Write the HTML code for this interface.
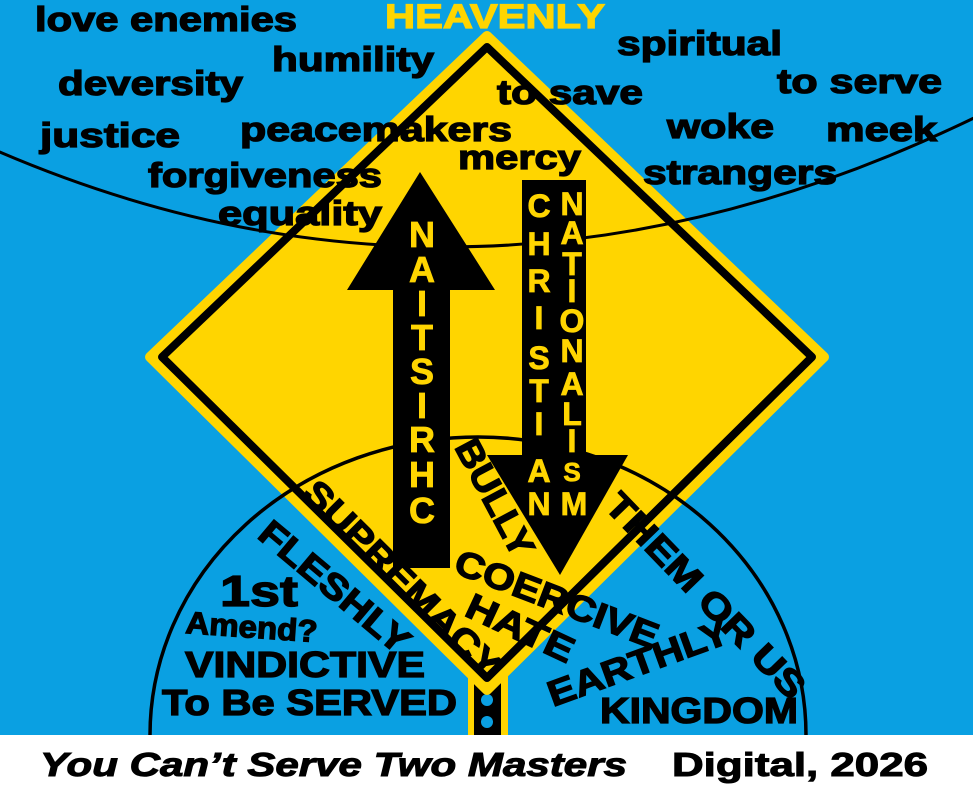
<!DOCTYPE html>
<html><head><meta charset="utf-8"><style>
html,body{margin:0;padding:0;background:#fff;overflow:hidden}
svg{display:block}
text{font-family:"Liberation Sans",Arial,sans-serif;font-weight:bold}
</style></head><body>
<svg width="973" height="790" viewBox="0 0 973 790" xmlns="http://www.w3.org/2000/svg">
<defs><clipPath id="c"><rect x="0" y="0" width="973" height="735"/></clipPath></defs>
<rect x="0" y="0" width="973" height="735" fill="#0aa0e2"/>
<rect x="0" y="735" width="973" height="55" fill="#fff"/>
<!-- post -->
<rect x="468" y="670" width="40" height="65" fill="#ffd500"/>
<rect x="474" y="670" width="27" height="65" fill="#000"/>
<circle cx="487" cy="700" r="6" fill="#0aa0e2"/>
<circle cx="487" cy="722" r="6" fill="#0aa0e2"/>
<!-- diamond -->
<polygon points="487,36 824,357 487,690 150,357" fill="#ffd500" stroke="#ffd500" stroke-width="10" stroke-linejoin="round"/>
<polygon points="487,47 812,357 487,678 162,357" fill="#ffd500" stroke="#000" stroke-width="8" stroke-linejoin="round"/>
<!-- curves -->
<g clip-path="url(#c)">
<path d="M -5 150 Q 480 360 980 115" fill="none" stroke="#000" stroke-width="3"/>
<ellipse cx="478" cy="735" rx="328" ry="298" fill="none" stroke="#000" stroke-width="3.5"/>
</g>
<!-- arrows -->
<polygon points="420,172 495,290 450,290 450,568 393,568 393,290 347,290" fill="#000"/>
<rect x="522" y="180" width="64" height="276" fill="#000"/>
<polygon points="487,455 628,455 560,575" fill="#000"/>
<g fill="#ffd500" stroke="#ffd500" stroke-width="0.8" font-size="36" text-anchor="middle">
<text x="422" y="247">N</text><text x="422" y="282">A</text><text x="422" y="316">I</text><text x="422" y="350">T</text><text x="422" y="384">S</text><text x="422" y="418">I</text><text x="422" y="452">R</text><text x="422" y="487">H</text><text x="422" y="523">C</text>
</g>
<g fill="#ffd500" stroke="#ffd500" stroke-width="0.8" font-size="32" text-anchor="middle">
<text x="539" y="217">C</text><text x="539" y="255">H</text><text x="539" y="292">R</text><text x="539" y="329">I</text><text x="539" y="369">S</text><text x="539" y="402">T</text><text x="539" y="435">I</text><text x="539" y="482">A</text><text x="539" y="515">N</text>
<text x="572" y="215">N</text><text x="572" y="244">A</text><text x="572" y="275">T</text><text x="572" y="302">I</text><text x="572" y="332">O</text><text x="572" y="362">N</text><text x="572" y="395">A</text><text x="572" y="425">L</text><text x="572" y="452">I</text><text x="572" y="481" font-size="26">S</text><text x="574" y="515">M</text>
</g>
<!-- top words -->
<g fill="#000" stroke="#000" stroke-width="1.3" font-size="34">
<text x="35" y="31" textLength="262" lengthAdjust="spacingAndGlyphs">love enemies</text>
<text x="272" y="71" textLength="162" lengthAdjust="spacingAndGlyphs">humility</text>
<text x="617" y="55" textLength="165" lengthAdjust="spacingAndGlyphs">spiritual</text>
<text x="58" y="95" textLength="185" lengthAdjust="spacingAndGlyphs">deversity</text>
<text x="497" y="104" textLength="146" lengthAdjust="spacingAndGlyphs">to save</text>
<text x="777" y="93" textLength="165" lengthAdjust="spacingAndGlyphs">to serve</text>
<text x="40" y="147" textLength="140" lengthAdjust="spacingAndGlyphs">justice</text>
<text x="240" y="141" textLength="272" lengthAdjust="spacingAndGlyphs">peacemakers</text>
<text x="667" y="138" textLength="107" lengthAdjust="spacingAndGlyphs">woke</text>
<text x="826" y="141" textLength="111" lengthAdjust="spacingAndGlyphs">meek</text>
<text x="458" y="169" textLength="123" lengthAdjust="spacingAndGlyphs">mercy</text>
<text x="148" y="187" textLength="234" lengthAdjust="spacingAndGlyphs">forgiveness</text>
<text x="643" y="184" textLength="194" lengthAdjust="spacingAndGlyphs">strangers</text>
<text x="218" y="225" textLength="164" lengthAdjust="spacingAndGlyphs">equality</text>
</g>
<text x="385" y="28" fill="#ffd500" stroke="#ffd500" stroke-width="1.2" font-size="34" textLength="220" lengthAdjust="spacingAndGlyphs">HEAVENLY</text>
<!-- bottom words -->
<g fill="#000" stroke="#000" stroke-width="1.3" font-size="36">
<text transform="translate(301,495) rotate(45)" textLength="262" lengthAdjust="spacingAndGlyphs">SUPREMACY</text>
<text transform="translate(256,537) rotate(40)" textLength="185" lengthAdjust="spacingAndGlyphs">FLESHLY</text>
<text transform="translate(454,447) rotate(62)" textLength="128" lengthAdjust="spacingAndGlyphs">BULLY</text>
<text transform="translate(452,572) rotate(21)" textLength="215" lengthAdjust="spacingAndGlyphs">COERCIVE</text>
<text transform="translate(463,615) rotate(25)" textLength="115" lengthAdjust="spacingAndGlyphs">HATE</text>
<text transform="translate(603,507) rotate(46)" textLength="270" lengthAdjust="spacingAndGlyphs">THEM OR US</text>
<text transform="translate(553,707) rotate(-20)" textLength="190" lengthAdjust="spacingAndGlyphs">EARTHLY</text>
<text x="600" y="723" textLength="198" lengthAdjust="spacingAndGlyphs">KINGDOM</text>
<text x="220" y="606" font-size="44" textLength="78" lengthAdjust="spacingAndGlyphs">1st</text>
<text x="185" y="633" font-size="31" transform="rotate(4 185 633)" textLength="132" lengthAdjust="spacingAndGlyphs">Amend?</text>
<text x="185" y="677" textLength="240" lengthAdjust="spacingAndGlyphs">VINDICTIVE</text>
<text x="162" y="715" textLength="295" lengthAdjust="spacingAndGlyphs">To Be SERVED</text>
</g>
<!-- caption -->
<text x="40" y="776" font-size="33" font-style="italic" fill="#000" stroke="#000" stroke-width="1" textLength="587" lengthAdjust="spacingAndGlyphs">You Can’t Serve Two Masters</text>
<text x="672" y="776" font-size="33" fill="#000" stroke="#000" stroke-width="1" textLength="256" lengthAdjust="spacingAndGlyphs">Digital, 2026</text>
</svg>
</body></html>
